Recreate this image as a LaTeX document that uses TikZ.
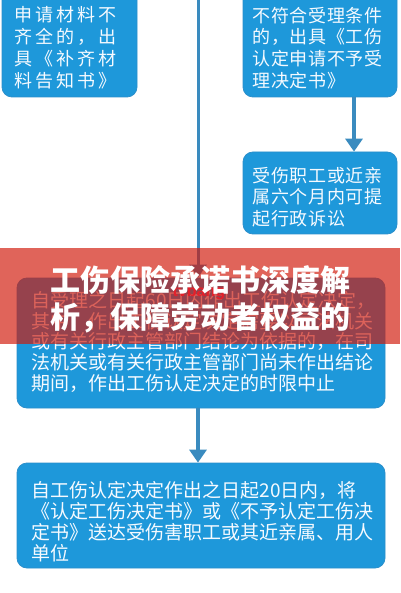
\documentclass[tikz,border=0pt]{standalone}
\usepackage{fontspec}
\setmainfont{Noto Sans CJK SC}
\newfontfamily\cjkA[LetterSpace=16.7]{Noto Sans CJK SC}
\newfontfamily\cjkB[LetterSpace=3.3]{Noto Sans CJK SC}
\newfontfamily\wmfont{Liberation Sans}
\usetikzlibrary{arrows.meta}
\definecolor{boxblue}{HTML}{1E98DA}
\definecolor{edgeblue}{HTML}{2B8FCB}
\definecolor{linkblue}{HTML}{3A8BBF}
\definecolor{bannerred}{RGB}{209,24,9}
\definecolor{wmred}{HTML}{E4202A}
\definecolor{txtwhite}{HTML}{F5FAFF}
\begin{document}
\begin{tikzpicture}[x=1pt,y=-1pt,
  box/.style={draw=edgeblue, line width=0.8pt, fill=boxblue, rounded corners=10pt, inner sep=0pt},
  boxtext/.style={anchor=north west, inner sep=0pt, align=left, text=txtwhite},
  link/.style={draw=linkblue, line width=4pt, -{Triangle[width=17pt,length=13pt]}},
  spine/.style={draw=linkblue, line width=3pt, -{Triangle[width=17pt,length=13pt]}},
]
\useasboundingbox (0,0) rectangle (400,593);
\clip (0,0) rectangle (400,593);
\fill[white] (0,0) rectangle (400,593);

% boxes
\node[box, minimum width=135pt, minimum height=112pt] (A) at (69.5,41) {};
\node[box, minimum width=154pt, minimum height=112pt] (B) at (320,41) {};
\node[box, minimum width=154pt, minimum height=82pt] (C) at (320,193) {};
\node[box, minimum width=368pt, minimum height=130pt] (D) at (201,343) {};
\node[box, minimum width=368pt, minimum height=105pt] (E) at (201,515.5) {};

% texts
\node[boxtext, font=\cjkA\fontsize{18}{22}\selectfont] (ta) at (14.3,5)
  {\rule{0pt}{0.88em}申请材料不\\齐全的，出\\具《补齐材\\料告知书》};
\node[boxtext, font=\cjkB\fontsize{18}{21.7}\selectfont] (tb) at (252.5,6)
  {\rule{0pt}{0.88em}不符合受理条件\\的，出具《工伤\\认定申请不予受\\理决定书》};
\node[boxtext, font=\cjkB\fontsize{18}{21.5}\selectfont] (tc) at (252.5,166)
  {\rule{0pt}{0.88em}受伤职工或近亲\\属六个月内可提\\起行政诉讼};
\node[boxtext, font=\fontsize{19}{20.75}\selectfont] (td) at (31.5,290.5)
  {\rule{0pt}{0.88em}自受理之日起60日内作出工伤认定决定，\\其中，作出工伤认定决定需要以司法机关\\或有关行政主管部门结论为依据的，在司\\法机关或有关行政主管部门尚未作出结论\\期间，作出工伤认定决定的时限中止};
\node[boxtext, font=\fontsize{19}{21}\selectfont] (te) at (31.5,480.5)
  {\rule{0pt}{0.88em}自工伤认定决定作出之日起20日内，将\\《认定工伤决定书》或《不予认定工伤决\\定书》送达受伤害职工或其近亲属、用人\\单位};

% connectors
\coordinate (spinetop) at (198,-5);
\coordinate (bcx) at (354,0);
\draw[spine] (spinetop) -- (D.north -| spinetop);
\draw[link] (B.south -| bcx) -- (C.north -| bcx);
\draw[link] (D.south -| spinetop) -- (E.north -| spinetop);

% banner overlay
\fill[bannerred, opacity=0.67] (0,248) rectangle (400,344);
\node[anchor=base west, inner sep=0pt, text=wmred, font=\wmfont\bfseries\fontsize{16}{16}\selectfont] (wm) at (172.5,296) {tvbang};
\node[boxtext, text=white, font=\bfseries\fontsize{30}{37}\selectfont] (title) at (50.5,265)
  {\rule{0pt}{0.88em}工伤保险承诺书深度解\\析，保障劳动者权益的};
\end{tikzpicture}
\end{document}
